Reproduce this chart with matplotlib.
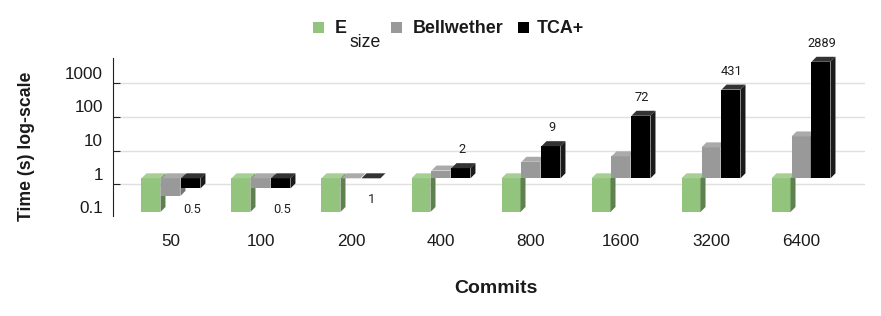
import matplotlib.pyplot as plt
from matplotlib.patches import Polygon, Rectangle
from matplotlib.ticker import NullLocator
from matplotlib.transforms import ScaledTranslation, IdentityTransform

commits = ['50', '100', '200', '400', '800', '1600', '3200', '6400']
esize = [0.1, 0.1, 0.1, 0.1, 0.1, 0.1, 0.1, 0.1]
bellwether = [0.3, 0.5, 1, 1.7, 3.1, 4.5, 8.3, 17.5]
tca = [0.5, 0.5, 1, 2, 9, 72, 431, 2889]
tca_labels = ['0.5', '0.5', '1', '2', '9', '72', '431', '2889']
yticks = [0.1, 1, 10, 100, 1000]
yticklabels = ['0.1', '1', '10', '100', '1000']

W, H = 881, 316
plt.rcParams['font.family'] = ['Liberation Sans', 'DejaVu Sans']
fig = plt.figure(figsize=(W / 100, H / 100), dpi=100)
ax = fig.add_axes([113 / W, 1 - 216 / H, (865 - 113) / W, 158 / H])
ax.set_yscale('log')
ax.set_ylim(0.1145, 5640)
ax.set_xlim(-0.644, 7.711)

# bars sit a few pixels above the gridlines (3D look of the original)
tr = ax.transData + ScaledTranslation(0, 6 / 100, fig.dpi_scale_trans)
bw = 0.211
d = 5


def bar3d(x, v, front, top, side, z):
    lo, hi = min(v, 1), max(v, 1)
    ax.bar(x, hi - lo, bottom=lo, width=bw, color=front, transform=tr,
           clip_on=False, zorder=z, linewidth=0)
    x0, y0 = tr.transform((x - bw / 2, lo))
    x1, y1 = tr.transform((x + bw / 2, hi))
    faces = [([(x0, y1), (x1, y1), (x1 + d, y1 + d), (x0 + d, y1 + d)], top),
             ([(x1, y0), (x1 + d, y0 + d), (x1 + d, y1 + d), (x1, y1)], side)]
    for pts, c in faces:
        ax.add_patch(Polygon(pts, closed=True, facecolor=c, edgecolor='none',
                             transform=IdentityTransform(), clip_on=False, zorder=z))


series = [(esize, -0.222, '#93c47d', '#a6d093', '#5f8150'),
          (bellwether, 0.0, '#999999', '#aaaaaa', '#747474'),
          (tca, 0.222, '#000000', '#333333', '#1a1a1a')]
for k, (vals, off, fc, tc, sc) in enumerate(series):
    for i, v in enumerate(vals):
        bar3d(i + off, v, fc, tc, sc, 3 + k)

for i, (v, lab) in enumerate(zip(tca, tca_labels)):
    dy = 18.6 if v > 1 else -21
    ax.annotate(lab, (i + 0.222, v), xycoords=tr, xytext=(1, dy),
                textcoords='offset pixels', ha='center', va='center',
                fontsize=9.3, family=['Roboto', 'DejaVu Sans'], color='#1f1f1f',
                annotation_clip=False)

# axes styling
for s in ['top', 'right', 'bottom']:
    ax.spines[s].set_visible(False)
ax.spines['left'].set_color('#222222')
ax.set_yticks([1, 10, 100, 1000])
ax.yaxis.set_minor_locator(NullLocator())
ax.tick_params(axis='y', direction='in', length=5, color='#222222', labelleft=False)
ax.grid(axis='y', color='#e0e0e0', linewidth=1)
ax.set_axisbelow(True)
for v, lab in zip(yticks, yticklabels):
    ax.annotate(lab, (0, v), xycoords=('axes fraction', 'data'), xytext=(-10, 9),
                textcoords='offset pixels', ha='right', va='center',
                fontsize=12.3, color='#1a1a1a', annotation_clip=False)

ax.set_xticks(range(len(commits)), commits)
ax.tick_params(axis='x', length=0, pad=13, labelsize=12.3, labelcolor='#1a1a1a')

fig.text(495.6 / W, 1 - 288.5 / H, 'Commits', ha='center', va='center',
         fontsize=14, fontweight='bold', color='#1a1a1a')
fig.text(27 / W, 1 - 146 / H, 'Time (s) log-scale', ha='center', va='center',
         rotation=90, fontsize=12.7, fontweight='bold', color='#1a1a1a')

# legend
for x, c in [(312.7, '#93c47d'), (390.7, '#999999'), (518, '#000000')]:
    fig.add_artist(Rectangle((x / W, 1 - 32.7 / H), 11 / W, 11 / H,
                             transform=fig.transFigure, facecolor=c, edgecolor='none'))
for x, t in [(335, 'E'), (413, 'Bellwether'), (537, 'TCA+')]:
    fig.text(x / W, 1 - 32.7 / H, t, ha='left', va='baseline',
             fontsize=12.9, fontweight='bold', color='#1a1a1a')
fig.text(349 / W, 1 - 46.7 / H, 'size', ha='left', va='baseline',
         fontsize=12.7, color='#1a1a1a')

fig.savefig('out.png', dpi=100)
